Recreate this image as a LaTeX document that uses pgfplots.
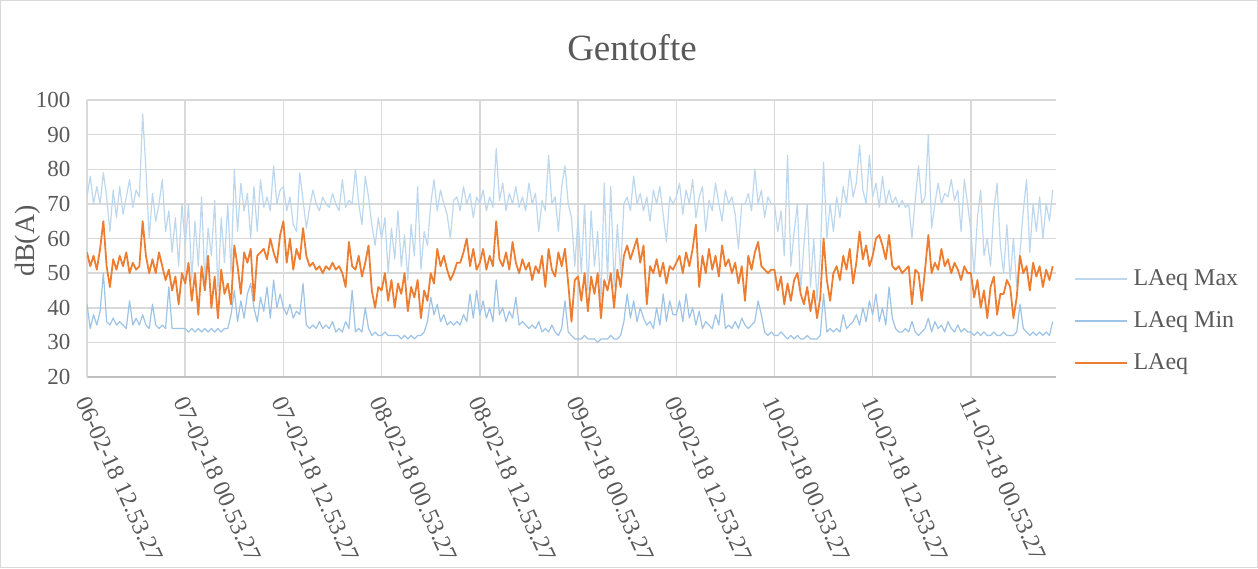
\documentclass[border=0pt]{standalone}
\usepackage{fontspec}
\setmainfont{Liberation Serif}
\usepackage{pgfplots}
\usepackage{pgfplotstable}
\pgfplotsset{compat=1.18}
\definecolor{cmax}{HTML}{BDD7EE}
\definecolor{cmin}{HTML}{9DC3E6}
\definecolor{claeq}{HTML}{ED7D31}
\definecolor{txt}{HTML}{595959}
\definecolor{grd}{HTML}{D9D9D9}
\definecolor{axl}{HTML}{BFBFBF}

\pgfplotstableread{
mx mn lq
72 41 56
78 34 52
70 38 55
75 35 51
70 39 57
79 50 65
72 36 52
62 35 46
74 37 54
66 35 51
75 36 55
67 35 52
72 34 56
77 42 50
69 35 53
74 37 51
72 35 52
96 38 65
80 35 55
60 34 50
73 41 54
65 35 50
70 34 56
77 35 52
62 34 48
68 46 51
56 34 45
66 34 49
52 34 41
70 34 50
58 34 47
70 33 53
48 34 42
65 33 50
52 34 38
72 33 52
47 34 45
63 33 55
55 34 40
71 33 49
45 34 37
66 33 51
53 34 44
70 34 47
50 38 41
80 45 58
62 36 52
76 42 44
68 37 56
73 44 53
60 47 57
75 40 42
62 36 55
77 43 56
69 39 57
72 46 54
68 37 60
81 48 56
70 40 53
74 44 61
75 40 65
68 38 53
72 41 60
64 37 51
62 39 57
79 38 54
71 47 63
63 35 55
69 34 52
74 35 53
70 34 51
68 36 52
72 34 50
70 35 52
69 34 51
73 36 53
70 33 51
68 34 52
77 33 50
69 36 46
71 34 59
70 45 52
80 33 51
70 34 55
64 33 49
78 40 53
72 34 58
64 32 45
58 33 40
66 32 46
60 32 45
66 33 50
50 32 42
63 32 48
54 32 40
68 32 47
52 31 44
61 32 50
48 31 39
64 32 46
55 31 43
75 32 48
51 32 37
62 33 45
58 36 42
70 43 50
77 38 47
68 41 57
74 36 52
70 38 55
67 35 51
60 36 48
71 35 50
72 36 53
68 35 53
75 38 56
70 36 60
73 44 52
66 37 57
72 45 51
70 38 53
74 42 57
68 37 51
72 40 55
69 36 52
86 48 65
71 38 54
76 40 52
68 36 56
73 39 51
70 37 59
75 43 53
69 35 50
72 36 54
68 35 51
76 34 53
70 35 48
73 34 52
62 36 50
71 33 55
68 34 46
84 33 57
70 35 51
72 33 49
62 32 56
75 34 52
81 42 57
70 33 47
66 32 36
52 31 48
66 31 49
50 31 42
70 32 50
45 31 39
68 31 49
52 31 44
62 30 50
42 31 37
76 31 48
48 31 45
75 32 50
46 31 40
64 31 51
50 32 46
70 36 55
72 44 58
68 37 54
78 42 57
70 36 60
73 40 53
68 37 58
72 35 41
65 36 52
74 34 50
70 40 54
75 35 49
67 44 53
59 36 47
72 42 52
70 38 51
72 38 53
76 42 55
67 36 50
74 44 56
70 37 52
77 40 57
66 35 64
72 39 46
75 34 55
62 36 50
71 35 57
68 34 51
76 38 55
70 35 49
65 44 58
74 34 52
70 35 54
72 34 50
67 36 53
57 34 47
70 37 52
70 35 42
73 34 55
68 35 51
80 36 56
70 42 59
74 38 52
66 33 51
72 32 50
70 33 51
70 32 51
62 32 45
68 33 49
55 32 41
84 31 47
52 32 42
62 31 48
70 32 50
45 31 44
58 31 41
70 32 46
46 31 39
60 31 45
42 31 37
55 32 43
82 44 60
60 33 48
70 34 42
62 33 50
72 34 52
66 33 48
75 38 55
70 34 51
80 35 57
72 36 47
76 38 53
87 35 62
74 40 54
70 36 58
84 42 52
72 38 55
76 44 60
69 36 61
78 40 58
70 35 54
74 46 61
70 37 52
72 34 51
69 33 52
71 33 50
69 34 51
70 33 52
60 36 41
71 33 51
81 32 50
70 33 42
72 34 51
90 37 61
63 33 50
70 36 53
76 34 51
70 35 57
73 33 52
72 36 54
77 34 50
71 33 53
74 35 51
62 33 48
77 34 52
70 33 50
62 33 50
50 32 43
66 33 48
74 32 40
55 33 45
60 32 37
52 32 46
68 33 49
76 32 38
58 32 44
50 33 44
64 32 48
48 32 46
60 32 37
46 33 43
56 41 55
68 34 50
77 33 52
56 32 45
70 33 53
62 32 49
72 33 52
60 32 46
70 33 51
65 32 48
74 36 52
}\data

\begin{document}
\begin{tikzpicture}[x=1pt,y=1pt]
\useasboundingbox (0,0) rectangle (1258,568);
\draw[grd, line width=1pt] (0.5,0.5) rectangle (1257.5,567.5);
\node[font=\fontsize{37}{44}\selectfont, text=txt, anchor=base] at (632,507) {Gentofte};
\node[font=\fontsize{28}{32}\selectfont, text=txt, rotate=90] at (28,327) {dB(A)};
\begin{axis}[
  at={(87pt,191pt)}, anchor=south west,
  scale only axis, width=969pt, height=277pt,
  xmin=0, xmax=296, ymin=20, ymax=100,
  xtick={0,30,...,270},
  xticklabels={06-02-18 12.53.27,07-02-18 00.53.27,07-02-18 12.53.27,08-02-18 00.53.27,08-02-18 12.53.27,09-02-18 00.53.27,09-02-18 12.53.27,10-02-18 00.53.27,10-02-18 12.53.27,11-02-18 00.53.27},
  ytick={20,30,...,100},
  /pgf/number format/assume math mode=true,
  grid=major, major grid style={grd, line width=1.5pt},
  axis x line*=bottom, axis y line*=left,
  x axis line style={-, color=axl, line width=1.6pt},
  y axis line style={-, color=grd, line width=1.5pt},
  major tick length=0pt,
  tick label style={font=\fontsize{23}{27}\selectfont, text=txt},
  yticklabel style={xshift=-13pt},
  xticklabel style={font=\fontsize{24}{28}\selectfont, xshift=-6pt, yshift=-18pt, rotate=-65.5, anchor=west},
  legend style={at={(1.0155,0.202)}, anchor=west, draw=none, fill=none,
    font=\fontsize{24}{28}\selectfont, text=txt, row sep=20pt,
    nodes={inner sep=0pt, text height=17pt, text depth=5pt},
    /tikz/every odd column/.append style={column sep=6pt}},
  legend cell align=left,
  legend image code/.code={\draw[#1, line width=1.3pt] (0pt,0pt) -- (52pt,0pt);},
]
\addplot[cmax, line width=1.2pt, line join=round] table[x expr=\coordindex, y=mx] {\data};
\addlegendentry{LAeq Max}
\addplot[cmin, line width=1.2pt, line join=round] table[x expr=\coordindex, y=mn] {\data};
\addlegendentry{LAeq Min}
\addplot[claeq, line width=1.8pt, line join=round] table[x expr=\coordindex, y=lq] {\data};
\addlegendentry{LAeq}
\end{axis}
\end{tikzpicture}
\end{document}
